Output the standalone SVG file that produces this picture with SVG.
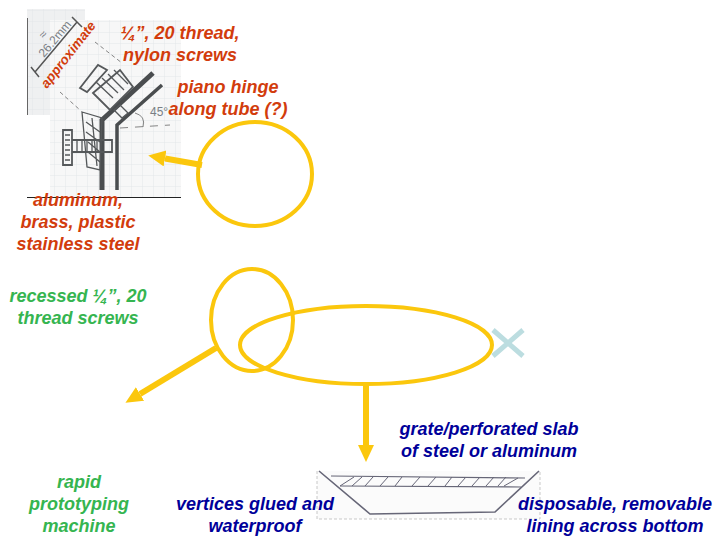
<svg xmlns="http://www.w3.org/2000/svg" width="720" height="540" viewBox="0 0 720 540">
<defs>
<pattern id="grid" width="11" height="11" patternUnits="userSpaceOnUse"><path d="M11 0V11H0" fill="none" stroke="#e3e6e9" stroke-width="1"/></pattern>
<marker id="arrow" markerUnits="userSpaceOnUse" markerWidth="18" markerHeight="18" refX="0" refY="8" orient="auto"><path d="M0 0L17 8L0 16Z" fill="#fbc70d"/></marker>
</defs>
<style>
text{font-family:"Liberation Sans",Arial,sans-serif;font-weight:bold;font-style:italic;font-size:18px;text-anchor:middle}
.red{fill:#d23c0c}.green{fill:#35b550}.blue{fill:#00009a}
.hand{fill:#7a7f85;font-weight:normal;font-style:normal;font-size:12px}
.ring{fill:none;stroke:#fbc70d;stroke-width:4}
.conn{fill:none;stroke:#fbc70d;stroke-width:6}
.ink{fill:none;stroke:#55585a;stroke-width:1.300}
.thick{fill:none;stroke:#4a4d4f;stroke-width:3.500}
.thin{fill:none;stroke:#777;stroke-width:.9}
</style>
<g id="sketch-bracket">
<rect x="27" y="9" width="58" height="106" fill="#eff0f1"/>
<rect x="27" y="9" width="58" height="106" fill="url(#grid)"/>
<rect x="50" y="20" width="131" height="177" fill="#f7f7f7"/>
<rect x="50" y="20" width="131" height="177" fill="url(#grid)"/>
<path d="M27.500 18V115" stroke="#666" stroke-width="1" fill="none"/>
<path d="M27 197.500H181" stroke="#222" stroke-width="1.200" fill="none"/>
<path d="M102 190V120L153 73" class="thick" style="stroke-width:5"/>
<path d="M117 190V125L162 85" class="thick"/>
<path d="M120 128L170 125" class="thin" stroke-dasharray="8 7"/>
<path d="M135 113Q146 116 143 127" class="thin"/>
<path d="M95 42L122 63M60 92L80 110" class="thin" stroke-dasharray="4 3"/>
<path d="M35 72L77 22M31 67L39 77M72 17L82 27" stroke="#555" stroke-width="1.500" fill="none"/>
<text class="hand" transform="translate(44 58) rotate(-50)" style="text-anchor:start">26.2mm</text>
<text class="hand" transform="translate(46 37) rotate(-50)">≈</text>
<text class="hand" x="150" y="116" style="text-anchor:start">45°</text>
<path d="M80 88L98 65L107 70L87 92ZM93 93L120 70L133 87L110 110Z" class="ink" style="stroke-width:1.800"/>
<path d="M96 82L113 98M102 78L118 93M108 74L124 90M114 70L128 84M120 105L128 113L122 118L114 110Z" class="ink"/>
<path d="M82 112L102 118L100 170L87 167ZM86 122L100 132M86 132L100 142M88 142L100 152M88 152L100 162M92 118L97 166" class="ink"/>
<path d="M63 130H72V165H63ZM72 140H112V152H72Z" class="ink" style="stroke-width:1.800"/>
<path d="M77 140V152M82 140V152M87 140V152M92 140V152M97 140V152M65 135H70M65 140H70M65 145H70M65 150H70M65 155H70M65 160H70" class="ink"/>
</g>
<g id="sketch-trough">
<path d="M317 471V519H540V471" fill="#fbfbfb" stroke="#bbb" stroke-width=".8" stroke-dasharray="3 2"/>
<path d="M319 471L370 514L495 512L539 471" fill="none" stroke="#667" stroke-width="1.600"/>
<path d="M331 476L525 478M340 486L521 487" fill="none" stroke="#667" stroke-width="1.200"/>
<path d="M340 486L354 477M352 486L362 477M365 486L373 477M380 486L388 477M395 486L402 477M412 486L420 477M428 486L436 477M445 486L452 477M458 486L466 477M472 486L480 477M486 486L494 477M498 486L506 477M504 486L518 478" fill="none" stroke="#667" stroke-width="1"/>
</g>
<g id="connectors">
<path d="M202 165L165 158.500" class="conn" marker-end="url(#arrow)"/>
<path d="M216 348L140 394" class="conn" marker-end="url(#arrow)"/>
<path d="M366 384V445" class="conn" marker-end="url(#arrow)"/>
</g>
<g id="hinge-circle"><ellipse cx="255" cy="174" rx="57" ry="52" class="ring"/></g>
<g id="end-oval"><ellipse cx="252" cy="320" rx="41" ry="51" class="ring"/></g>
<g id="tube-oval"><ellipse cx="366" cy="345" rx="126" ry="39" class="ring"/></g>
<g id="cross"><path d="M493 330L523 356M523 330L493 356" stroke="#bcdde0" stroke-width="5" fill="none"/></g>
<g id="label-approximate"><text class="red" transform="translate(47 89) rotate(-52)" style="text-anchor:start;font-size:13.500px">approximate</text></g>
<g id="label-screws"><text class="red" x="180" y="39">¼”, 20 thread,</text><text class="red" x="180" y="61">nylon screws</text></g>
<g id="label-hinge"><text class="red" x="228" y="93">piano hinge</text><text class="red" x="228" y="115">along tube (?)</text></g>
<g id="label-materials"><text class="red" x="78" y="206">aluminum,</text><text class="red" x="78" y="228">brass, plastic</text><text class="red" x="78" y="250">stainless steel</text></g>
<g id="label-recessed"><text class="green" x="78" y="302">recessed ¼”, 20</text><text class="green" x="78" y="324">thread screws</text></g>
<g id="label-grate"><text class="blue" x="489" y="435">grate/perforated slab</text><text class="blue" x="489" y="457">of steel or aluminum</text></g>
<g id="label-rapid"><text class="green" x="79" y="488">rapid</text><text class="green" x="79" y="510">prototyping</text><text class="green" x="79" y="532">machine</text></g>
<g id="label-vertices"><text class="blue" x="255" y="510">vertices glued and</text><text class="blue" x="255" y="532">waterproof</text></g>
<g id="label-lining"><text class="blue" x="615" y="510">disposable, removable</text><text class="blue" x="615" y="532">lining across bottom</text></g>
</svg>
